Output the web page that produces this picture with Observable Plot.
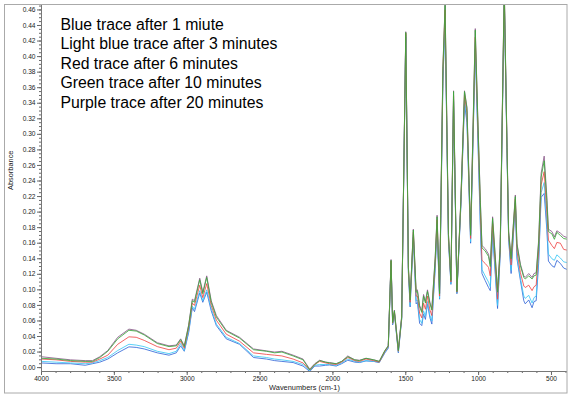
<!DOCTYPE html>
<html>
<head>
<meta charset="utf-8">
<script src="https://cdn.jsdelivr.net/npm/d3@7"></script>
<script src="https://cdn.jsdelivr.net/npm/@observablehq/plot@0.6"></script>
<style>
  html, body { margin: 0; padding: 0; background: #fff; }
  #chart { position: relative; width: 572px; height: 398px; }
</style>
</head>
<body>
<div id="chart"></div>
<script>
// Wavenumbers (cm-1), descending
const wavenumber = [4000,3900,3800,3700,3650,3600,3545,3477,3400,3350,3295,3205,3125,3075,3045,3020,2990,2965,2950,2914,2893,2866,2835,2800,2732,2641,2545,2455,2400,2350,2273,2205,2159,2125,2091,2050,2023,1977,1940,1898,1850,1818,1773,1720,1682,1643,1620,1601,1590,1578,1551,1528,1500,1482,1470,1448,1429,1420,1405,1390,1378,1365,1351,1334,1321,1298,1285,1268,1245,1230,1207,1190,1172,1149,1122,1097,1080,1055,1023,1007,988,977,955,932,920,904,870,852,824,805,794,777,748,737,713,690,680,656,633,620,605,588,571,550,532,521,497,480,463,439,416,390];

const purple = [.014,.012,.010,.009,.009,.014,.022,.039,.0495,.048,.043,.032,.028,.029,.037,.028,.055,.088,.086,.115,.097,.118,.086,.067,.048,.039,.024,.0215,.020,.021,.016,.011,-.002,.005,.0095,.007,.0065,.005,.008,.015,.010,.0095,.012,.010,.008,.022,.028,.139,.058,.074,.023,.066,.432,.130,.088,.178,.099,.100,.080,.073,.094,.085,.100,.084,.076,.142,.196,.096,.387,.467,.172,.113,.356,.099,.215,.356,.335,.172,.436,.330,.215,.157,.153,.146,.133,.194,.100,.155,.490,.285,.175,.143,.222,.160,.133,.118,.116,.121,.116,.121,.122,.164,.250,.272,.221,.178,.175,.168,.176,.173,.169,.167];
const green = [.012,.011,.009,.008,.008,.013,.021,.037,.048,.047,.042,.031,.027,.028,.036,.027,.054,.086,.084,.113,.095,.116,.084,.065,.047,.038,.023,.021,.019,.020,.015,.010,-.003,.004,.009,.007,.006,.005,.008,.014,.010,.009,.012,.010,.008,.022,.028,.138,.058,.073,.022,.065,.431,.129,.087,.177,.097,.098,.078,.071,.092,.083,.098,.082,.074,.140,.194,.095,.385,.466,.171,.112,.355,.098,.214,.355,.333,.170,.434,.328,.212,.154,.150,.143,.130,.192,.097,.153,.488,.283,.173,.140,.220,.158,.131,.116,.114,.118,.114,.118,.119,.160,.245,.266,.215,.175,.172,.165,.174,.170,.166,.165];
const red = [.011,.010,.008,.007,.007,.011,.016,.030,.0396,.039,.035,.027,.023,.025,.034,.025,.051,.083,.080,.106,.090,.108,.080,.061,.043,.034,.019,.017,.016,.015,.011,.006,-.003,.004,.008,.006,.005,.004,.007,.013,.009,.008,.011,.009,.007,.021,.027,.137,.057,.072,.021,.064,.430,.127,.084,.174,.092,.092,.070,.064,.083,.075,.092,.074,.067,.135,.190,.092,.380,.460,.168,.110,.350,.097,.212,.350,.328,.166,.425,.320,.200,.138,.134,.129,.118,.185,.088,.150,.485,.280,.170,.132,.217,.150,.122,.105,.103,.106,.099,.104,.106,.150,.235,.252,.200,.164,.157,.153,.161,.160,.152,.151];
const lightBlue = [.008,.007,.006,.005,.006,.009,.013,.022,.030,.029,.027,.021,.018,.021,.031,.022,.047,.079,.075,.099,.086,.100,.076,.056,.039,.031,.015,.013,.011,.010,.008,.004,-.004,.003,.004,.004,.004,.003,.006,.011,.008,.007,.009,.008,.007,.020,.026,.136,.056,.071,.020,.063,.428,.124,.080,.171,.086,.087,.062,.057,.073,.066,.085,.067,.060,.130,.185,.089,.372,.450,.165,.108,.345,.096,.209,.345,.320,.162,.418,.312,.188,.126,.118,.110,.104,.176,.080,.147,.480,.277,.167,.125,.214,.143,.115,.092,.089,.093,.083,.090,.092,.140,.225,.238,.187,.146,.140,.138,.145,.141,.136,.135];
const blue = [.006,.005,.005,.003,.005,.007,.011,.019,.0267,.026,.024,.019,.016,.019,.028,.021,.045,.077,.072,.096,.084,.097,.073,.054,.037,.030,.013,.011,.009,.008,.0065,.002,-.005,.002,.002,.003,.0034,.002,.005,.0095,.007,.0065,.0086,.008,.0065,.019,.025,.135,.055,.070,.019,.062,.425,.122,.078,.168,.082,.084,.057,.054,.069,.062,.082,.064,.056,.127,.182,.088,.368,.445,.163,.107,.342,.095,.207,.340,.315,.160,.410,.305,.180,.121,.112,.103,.099,.172,.076,.145,.475,.275,.165,.121,.212,.140,.112,.086,.082,.087,.077,.085,.086,.134,.219,.224,.178,.137,.131,.129,.138,.134,.128,.126];

// drawing order (bottom to top)
const seriesNames = ["Purple", "Blue", "Light blue", "Red", "Green"];
const seriesColors = ["#8a5a8a", "#3468d8", "#3cc8f5", "#f04848", "#3aa83a"];
const seriesValues = [purple, blue, lightBlue, red, green];

const legendLines = [
  "Blue trace after 1 miute",
  "Light blue trace after 3 minutes",
  "Red trace after 6 minutes",
  "Green trace after 10 minutes",
  "Purple trace after 20 minutes"
];

const yMajor = d3.range(0, 0.4601, 0.02);
const yMinor = d3.range(0, 0.466, 0.005);
const xMajor = [4000, 3500, 3000, 2500, 2000, 1500, 1000, 500];
const xMinor = d3.range(400, 4001, 100);

const rows = [];
seriesValues.forEach((vals, s) => {
  vals.forEach((v, i) => rows.push({series: seriesNames[s], w: wavenumber[i], a: v}));
});

const font = "Liberation Sans, Arial, sans-serif";

const plot = Plot.plot({
  width: 572,
  height: 398,
  marginLeft: 41,
  marginRight: 5,
  marginTop: 4,
  marginBottom: 27,
  style: {fontFamily: font, background: "#fff"},
  x: {domain: [4000, 390], range: [41, 567], label: null},
  y: {domain: [-0.005, 0.467], label: null},
  color: {domain: seriesNames, range: seriesColors},
  marks: [
    Plot.line(rows, {x: "w", y: "a", z: "series", stroke: "series", strokeWidth: 0.85, clip: true}),
    Plot.axisY({ticks: yMinor, tickSize: 2, text: null, stroke: "#666", label: null}),
    Plot.axisY({ticks: yMajor, tickSize: 4, tickPadding: 2, tickFormat: d3.format(".2f"), fontSize: 6.6, fill: "#222", stroke: "#666", label: null}),
    Plot.axisX({ticks: xMinor, tickSize: 2, text: null, stroke: "#666", label: null}),
    Plot.axisX({ticks: xMajor, tickSize: 4, tickPadding: 1, tickFormat: d => String(d), fontSize: 6.6, fill: "#222", stroke: "#666", label: null}),
    Plot.ruleX([4000], {stroke: "#777"}),
    Plot.ruleY([-0.005], {stroke: "#777"}),
    Plot.text(["Wavenumbers (cm-1)"], {frameAnchor: "bottom", dy: 18, fontSize: 7.4, fill: "#222"}),
    Plot.text(["Absorbance"], {frameAnchor: "left", dx: -31, dy: 2, rotate: -90, fontSize: 7.4, fill: "#222"}),
    ...legendLines.map((t, i) => Plot.text([t], {frameAnchor: "top-left", dx: 19, dy: 20 + i * 19.5, textAnchor: "start", lineAnchor: "middle", fontSize: 15.8, fill: "#000"}))
  ]
});

const svg = d3.select(plot);
svg.append("rect")
  .attr("x", 4.5).attr("y", 4.5).attr("width", 562.5).attr("height", 388.5)
  .attr("fill", "none").attr("stroke", "#aaa").attr("stroke-width", 1);

document.getElementById("chart").appendChild(plot);
</script>
</body>
</html>
